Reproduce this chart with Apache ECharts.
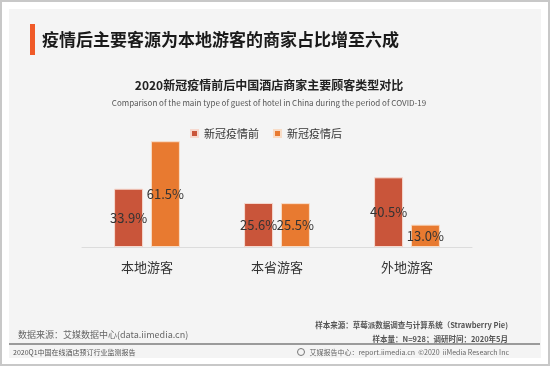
<!DOCTYPE html>
<html><head><meta charset="utf-8">
<script src="https://cdn.jsdelivr.net/npm/echarts@6/dist/echarts.min.js"></script>
<style>html,body{margin:0;padding:0;background:#fff}#c{width:550px;height:366px}</style>
</head><body><div id="c"></div>
<script>
var categories = ['本地游客', '本省游客', '外地游客'];
var seriesNames = ['新冠疫情前', '新冠疫情后'];
var beforeValues = [33.9, 25.6, 40.5];
var afterValues = [61.5, 25.5, 13.0];

var FONT = '"Noto Sans CJK SC", "Noto Sans", sans-serif';
var chart = echarts.init(document.getElementById('c'), null, {renderer: 'canvas'});
var labelOpt = {show: true, position: 'inside', color: '#333', fontSize: 13, fontFamily: FONT,
  formatter: function (p) { return p.value.toFixed(1) + '%'; }};
chart.setOption({
  backgroundColor: '#fff',
  animation: false,
  textStyle: {fontFamily: FONT},
  graphic: [
    {type: 'rect', shape: {x: 1, y: 1, width: 548, height: 364}, style: {fill: '#fff', stroke: '#c8c8c8', lineWidth: 2}, z: -10},
    {type: 'rect', shape: {x: 9, y: 9, width: 532, height: 349}, style: {fill: '#f4f4f4'}, z: -9},
    {type: 'rect', shape: {x: 30, y: 24, width: 5, height: 31}, style: {fill: '#f05a28'}},
    {type: 'text', x: 42, y: 40, style: {text: '疫情后主要客源为本地游客的商家占比增至六成', font: 'bold 17px ' + FONT, fill: '#1a1a1a', textVerticalAlign: 'middle'}},
    {type: 'text', x: 269, y: 85, style: {text: '2020新冠疫情前后中国酒店商家主要顾客类型对比', font: 'bold 12px ' + FONT, fill: '#222', textAlign: 'center', textVerticalAlign: 'middle'}},
    {type: 'text', x: 269, y: 103, style: {text: 'Comparison of the main type of guest of hotel in China during the period of COVID-19', font: '8px ' + FONT, fill: '#555', textAlign: 'center', textVerticalAlign: 'middle'}},
    {type: 'text', x: 18, y: 335, style: {text: '数据来源：艾媒数据中心(data.iimedia.cn)', font: '9px ' + FONT, fill: '#666', textVerticalAlign: 'middle'}},
    {type: 'text', x: 508, y: 325, style: {text: '样本来源：草莓派数据调查与计算系统（Strawberry Pie)', font: 'bold 7.5px ' + FONT, fill: '#555', textAlign: 'right', textVerticalAlign: 'middle'}},
    {type: 'text', x: 508, y: 339, style: {text: '样本量：N=928；调研时间：2020年5月', font: 'bold 7.5px ' + FONT, fill: '#555', textAlign: 'right', textVerticalAlign: 'middle'}},
    {type: 'rect', shape: {x: 9, y: 343, width: 531, height: 2}, style: {fill: '#9a9a9a'}},
    {type: 'text', x: 13, y: 352, style: {text: '2020Q1中国在线酒店预订行业监测报告', font: '7px ' + FONT, fill: '#555', textVerticalAlign: 'middle'}},
    {type: 'circle', shape: {cx: 301, cy: 352, r: 3.5}, style: {fill: 'none', stroke: '#777', lineWidth: 1}},
    {type: 'text', x: 509, y: 352, style: {text: '艾媒报告中心：report.iimedia.cn  ©2020  iiMedia Research Inc', font: '7px ' + FONT, fill: '#666', textAlign: 'right', textVerticalAlign: 'middle'}}
  ],
  legend: {
    top: 123, left: 185, itemWidth: 7, itemHeight: 7, itemGap: 14, icon: 'rect',
    textStyle: {fontSize: 11, color: '#333', fontFamily: FONT, padding: [0, 0, 0, 1]},
    data: seriesNames
  },
  grid: {left: 82, right: 78, top: 126.6, bottom: 119},
  xAxis: {
    type: 'category', data: categories,
    axisLine: {lineStyle: {color: '#dcdcdc', width: 1}},
    axisTick: {show: false},
    axisLabel: {color: '#333', fontSize: 13, margin: 14, fontFamily: FONT}
  },
  yAxis: {type: 'value', min: 0, max: 70, show: false, splitLine: {show: false}},
  series: [
    {name: seriesNames[0], type: 'bar', data: beforeValues, barWidth: 29, barGap: '27%',
     itemStyle: {color: '#c9553a', borderColor: '#f6d9cf', borderWidth: 1}, label: labelOpt},
    {name: seriesNames[1], type: 'bar', data: afterValues, barWidth: 29,
     itemStyle: {color: '#e87a30', borderColor: '#f8dcc6', borderWidth: 1}, label: labelOpt}
  ]
});
</script></body></html>
